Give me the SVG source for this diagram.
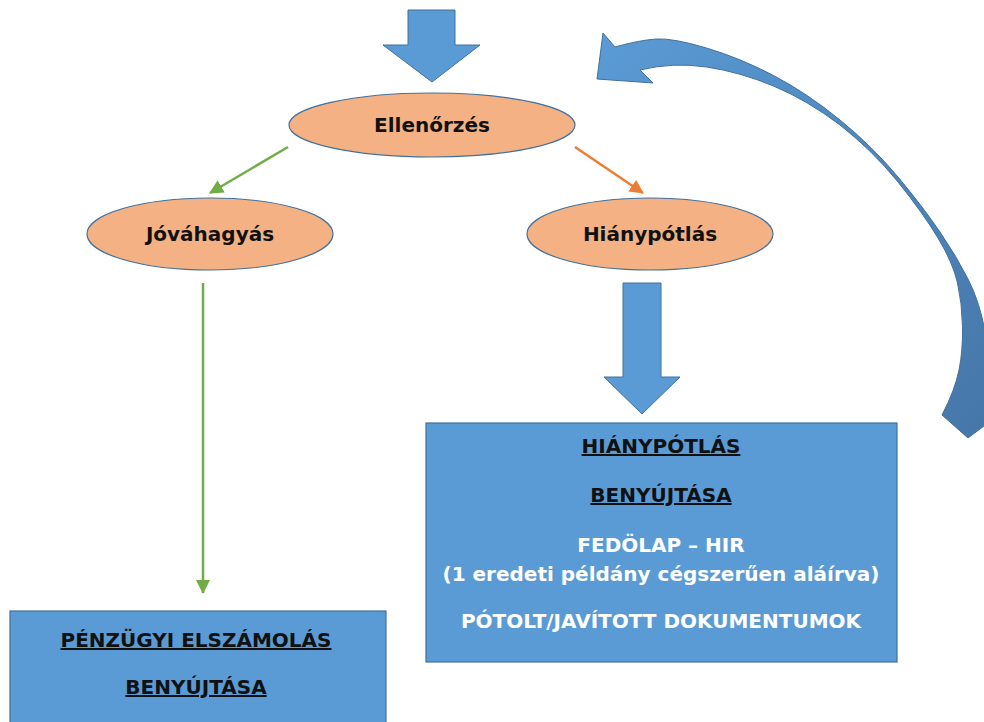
<svg xmlns="http://www.w3.org/2000/svg" width="984" height="722" viewBox="0 0 984 722">
<defs>
<style>
.ell{fill:#f4b183;stroke:#41719c;stroke-width:1.2}
.box{fill:#5b9bd5;stroke:#41719c;stroke-width:1.2}
.blk{fill:#5b9bd5;stroke:#41719c;stroke-width:1}
.t{font-family:"DejaVu Sans","Liberation Sans",sans-serif;font-weight:bold;font-size:20px;text-anchor:middle}
.dk{fill:#111}
.wh{fill:#fff}
.u{text-decoration:underline}
</style>
<linearGradient id="cg" x1="0" y1="0" x2="1" y2="1">
<stop offset="0" stop-color="#5b9bd5"/>
<stop offset="0.45" stop-color="#4f89c0"/>
<stop offset="1" stop-color="#4676a8"/>
</linearGradient>
<marker id="mg" viewBox="0 0 14 14" refX="13" refY="7" markerWidth="14" markerHeight="14" markerUnits="userSpaceOnUse" orient="auto">
<path d="M0,0 L14,7 L0,14 Z" fill="#70ad47"/>
</marker>
<marker id="mo" viewBox="0 0 14 14" refX="13" refY="7" markerWidth="14" markerHeight="14" markerUnits="userSpaceOnUse" orient="auto">
<path d="M0,0 L14,7 L0,14 Z" fill="#ed7d31"/>
</marker>
</defs>
<rect width="984" height="722" fill="#fff"/>
<g id="connectors">
<polygon class="blk" points="408,10 455,10 455,45 480,45 432,82 383,45 408,45"/>
<line x1="288" y1="147" x2="210" y2="193" stroke="#70ad47" stroke-width="2.5" marker-end="url(#mg)"/>
<line x1="575" y1="147" x2="643" y2="193" stroke="#ed7d31" stroke-width="2.5" marker-end="url(#mo)"/>
<line x1="203" y1="283" x2="203" y2="593" stroke="#70ad47" stroke-width="2.5" marker-end="url(#mg)"/>
<polygon class="blk" points="623,283 661,283 661,377 680,377 642,414 604,377 623,377"/>
<path d="M615,47 Q640,40 656.5,39 Q673,38 706.5,48 Q740,58 773.5,75.5 Q807,93 840,120 Q873,147 898,177 Q923,207 940,232 Q957,257 968.5,280 Q980,303 985,331.5 Q990,360 992,420 L968,438 L942,415 Q955,390 959,370 Q963,350 962.5,326.5 Q962,303 957.5,283 Q953,263 938,238 Q923,213 898,182 Q873,151 840,125 Q807,100 773.5,86 Q740,72 706.5,67 Q673,62 640,70 L653,83 L597,79 L603,33 Z" fill="url(#cg)" stroke="#41719c" stroke-width="1"/>
</g>
<g id="ellenorzes">
<ellipse class="ell" cx="432" cy="125" rx="143" ry="32"/>
<text class="t dk" x="432" y="132">Ellenőrzés</text>
</g>
<g id="jovahagyas">
<ellipse class="ell" cx="210" cy="234" rx="123" ry="36"/>
<text class="t dk" x="210" y="241">Jóváhagyás</text>
</g>
<g id="hianypotlas">
<ellipse class="ell" cx="650" cy="234" rx="123" ry="36"/>
<text class="t dk" x="650" y="241">Hiánypótlás</text>
</g>
<g id="hianypotlas-benyujtasa">
<rect class="box" x="426" y="423" width="471" height="239"/>
<text class="t dk u" x="661" y="453">HIÁNYPÓTLÁS</text>
<text class="t dk u" x="661" y="502">BENYÚJTÁSA</text>
<text class="t wh" x="661" y="552">FEDÖLAP – HIR</text>
<text class="t wh" x="661" y="581">(1 eredeti példány cégszerűen aláírva)</text>
<text class="t wh" x="661" y="628">PÓTOLT/JAVÍTOTT DOKUMENTUMOK</text>
</g>
<g id="penzugyi-elszamolas">
<rect class="box" x="10" y="611" width="376" height="120"/>
<text class="t dk u" x="196" y="647">PÉNZÜGYI ELSZÁMOLÁS</text>
<text class="t dk u" x="196" y="694">BENYÚJTÁSA</text>
</g>
</svg>
